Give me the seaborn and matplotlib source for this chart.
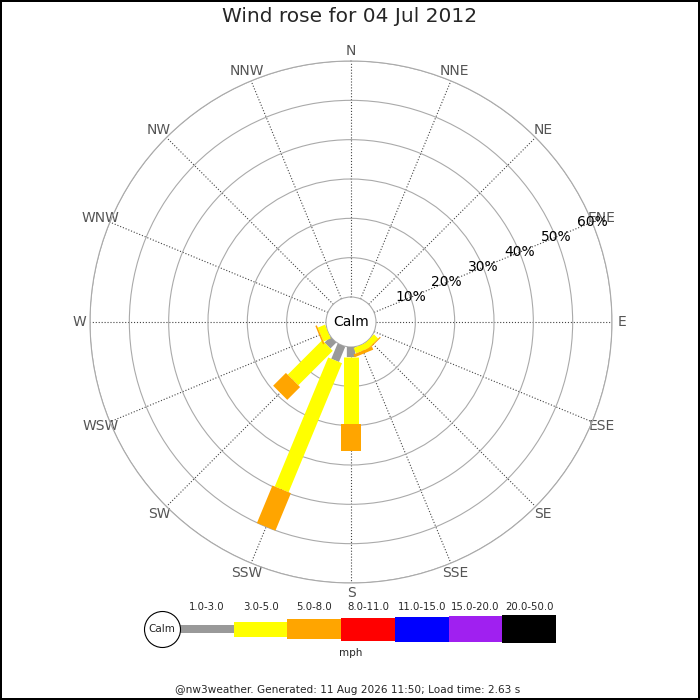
import numpy as np
import seaborn as sns
import matplotlib.pyplot as plt

# ── data (percent of day per direction and speed band) ──────────────────────
directions = ["N", "NNE", "NE", "ENE", "E", "ESE", "SE", "SSE",
              "S", "SSW", "SW", "WSW", "W", "WNW", "NW", "NNW"]
bands = ["1.0-3.0", "3.0-5.0", "5.0-8.0", "8.0-11.0",
         "11.0-15.0", "15.0-20.0", "20.0-50.0"]
band_colors = ["#999999", "#ffff00", "#ffa500", "#ff0000",
               "#0000ff", "#a020f0", "#000000"]
band_widths_px = [8.3, 15, 20, 23, 25, 26.3, 28.3]

pct_1_3 = [0, 0, 0, 0, 0, 0, 0, 0, 2.6, 4.2, 2.1, 0, 0, 0, 0, 0]
pct_3_5 = [0, 0, 0, 0, 0, 0, 1.5, 1.5, 17.1, 35.5, 12.4, 2.0, 0, 0, 0, 0]
pct_5_8 = [0, 0, 0, 0, 0, 0, 0.3, 0.8, 6.8, 10.3, 4.6, 0.4, 0, 0, 0, 0]
series = [pct_1_3, pct_3_5, pct_5_8]

ring_values = [10, 20, 30, 40, 50, 60]
ring_labels = ["10%", "20%", "30%", "40%", "50%", "60%"]

title = "Wind rose for 04 Jul 2012"
footer = "@nw3weather. Generated: 11 Aug 2026 11:50; Load time: 2.63 s"

# ── style ───────────────────────────────────────────────────────────────────
sns.set_style("white")
plt.rcParams["font.family"] = "DejaVu Sans"
palette = sns.color_palette(band_colors)

DPI = 100
fig = plt.figure(figsize=(7, 7), dpi=DPI)
fig.patch.set_edgecolor("black")
fig.patch.set_linewidth(1.5)

# polar axes: centre at (351, 322) px, outer ring radius 261 px
ax = fig.add_axes([90 / 700, 117 / 700, 522 / 700, 522 / 700], projection="polar")
ax.set_theta_zero_location("N")
ax.set_theta_direction(-1)
ax.set_ylim(0, 60)
ax.set_rorigin(-6.356)

theta = np.deg2rad(np.arange(16) * 22.5)
ax.set_thetagrids(np.arange(16) * 22.5, labels=directions)
ax.tick_params(axis="x", labelsize=10, labelcolor="#555555", pad=-3)
ax.set_yticks(ring_values)
ax.set_yticklabels([])
ax.xaxis.grid(True, linestyle=":", color="#444444", linewidth=0.8)
ax.yaxis.grid(True, linestyle="-", color="#aaaaaa", linewidth=0.8)
for name, sp in ax.spines.items():
    sp.set_color("#aaaaaa")
    sp.set_linewidth(0.8)

# stacked bars as thick radial segments (constant pixel width)
bottom = np.zeros(len(directions))
for vals, col, wpx in zip(series, palette, band_widths_px):
    vals = np.asarray(vals, dtype=float)
    mask = vals > 0
    ax.vlines(theta[mask], bottom[mask], bottom[mask] + vals[mask],
              colors=[col], linewidths=wpx * 72 / DPI, capstyle="butt", zorder=3)
    bottom += vals

for rv, lab in zip(ring_values, ring_labels):
    ax.text(np.deg2rad(67.5), rv, lab, ha="center", va="center",
            fontsize=10, color="black", zorder=5, clip_on=False)

ax.text(0.5, 0.5, "Calm", transform=ax.transAxes, ha="center", va="center",
        fontsize=10, color="black", zorder=6)

# ── legend strip ────────────────────────────────────────────────────────────
seg_px = 53.71
lax = fig.add_axes([140 / 700, 36 / 700, 420 / 700, 70 / 700])
lax.set_xlim((140 - 180) / seg_px, (560 - 180) / seg_px)
lax.set_ylim(-35, 35)
lax.axis("off")
for i, (lab, col, h) in enumerate(zip(bands, palette, band_widths_px)):
    lax.barh(0, 1, left=i, height=h, color=col, linewidth=0, align="center")
    lax.text(i + 0.5, 22.3, lab, ha="center", va="center", fontsize=7.3)
lax.scatter([(162.3 - 180) / seg_px], [0], s=(36 * 72 / DPI) ** 2,
            facecolor="white", edgecolor="black", linewidth=0.8,
            zorder=4, clip_on=False)
lax.text((162.3 - 180) / seg_px, 0, "Calm", ha="center", va="center",
         fontsize=7.5, zorder=5)
lax.text(0.502, (35 - 24) / 70, "mph", transform=lax.transAxes,
         ha="center", va="center", fontsize=7.5)

fig.text(0.5, 1 - 17 / 700, title, ha="center", va="center", fontsize=14.5)
fig.text(0.497, 10 / 700, footer, ha="center", va="center", fontsize=7.6)

fig.savefig("out.png", dpi=DPI)
